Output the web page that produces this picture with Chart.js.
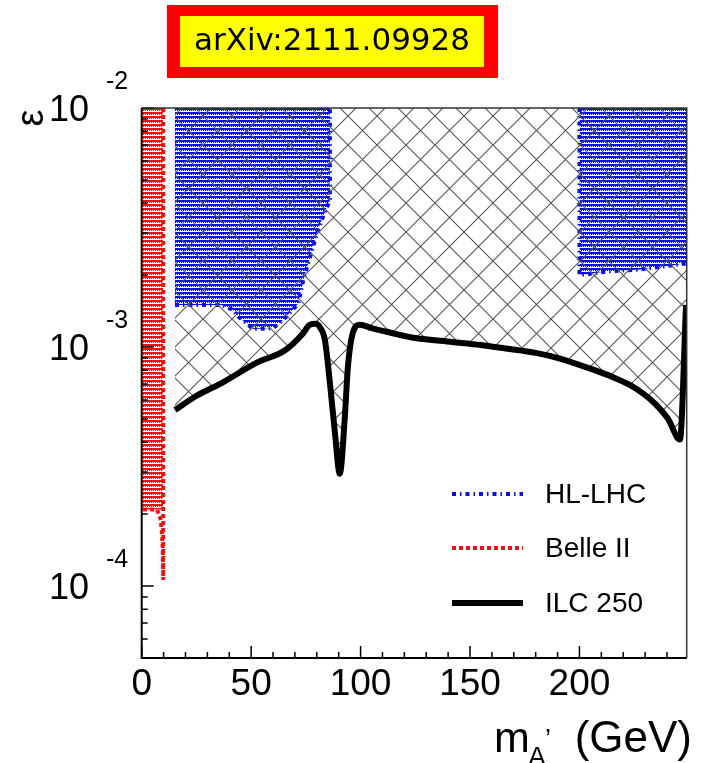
<!DOCTYPE html>
<html>
<head>
<meta charset="utf-8">
<script src="https://cdn.jsdelivr.net/npm/chart.js@4.4.1/dist/chart.umd.min.js"></script>
<style>
  html, body { margin: 0; padding: 0; background: #fff; }
  #wrap { width: 706px; height: 763px; position: relative; }
</style>
</head>
<body>
<div id="wrap"><canvas id="plot" width="706" height="763"></canvas></div>
<script>
// dark photon reach, m_A' in GeV against the kinetic mixing epsilon

// ILC 250 sensitivity curve
const ilcMass = [15.2, 24.9, 36.3, 52.6, 65.5, 73.7, 76.8, 79.5, 81.4, 83.7, 86.0, 88.3, 90.5, 92.8, 94.2, 96.5, 99.7, 105.0, 113.4, 125.0, 141.9, 155.0, 166.3, 180.0, 190.7, 206.9, 215.0, 223.2, 229.0, 234.5, 240.5, 245.9, 248.7];
const ilcEps  = [5.45e-4, 6.24e-4, 7.05e-4, 8.6e-4, 9.7e-4, 1.14e-3, 1.24e-3, 1.25e-3, 1.21e-3, 1.07e-3, 7.06e-4, 4.36e-4, 2.95e-4, 5.09e-4, 8.24e-4, 1.15e-3, 1.24e-3, 1.20e-3, 1.15e-3, 1.09e-3, 1.05e-3, 1.02e-3, 9.86e-4, 9.45e-4, 8.97e-4, 8.0e-4, 7.5e-4, 6.93e-4, 6.4e-4, 5.8e-4, 5.0e-4, 4.1e-4, 1.5e-3];

// HL-LHC excluded regions (lower edges, open to the top)
const hlLowMass  = [15.2, 36.5, 41.8, 44.1, 51.0, 60.1, 64.7, 71.5, 73.8, 77.0, 80.6, 84.0, 86.0, 86.0];
const hlLowEps   = [1.50e-3, 1.50e-3, 1.43e-3, 1.34e-3, 1.19e-3, 1.20e-3, 1.30e-3, 1.52e-3, 1.9e-3, 2.4e-3, 3.1e-3, 3.74e-3, 4.1e-3, 1e-2];
const hlHighMass = [200, 200, 212.3, 227.6, 242.6, 249];
const hlHighEps  = [1e-2, 2.0e-3, 2.07e-3, 2.11e-3, 2.2e-3, 2.24e-3];

// Belle II region and its contour
const belleMass = [0, 9.8];
const belleEps  = [2.09e-4, 2.09e-4];
const belleEdgeMass = [9.85, 9.85, 9.6, 9.1, 8.3, 6.8, 0];
const belleEdgeEps  = [1e-2, 1.06e-4, 1.45e-4, 1.75e-4, 1.98e-4, 2.09e-4, 2.09e-4];

// axes
const xMin = 0, xMax = 249;
const yMin = 5e-5, yMax = 1e-2;
const xMajor = [0, 50, 100, 150, 200];
const yDecades = [-4, -3, -2];

const legendItems = ['HL-LHC', 'Belle II', 'ILC 250'];

const pts = (xs, ys) => xs.map((x, i) => ({ x, y: ys[i] }));

const canvas = document.getElementById('plot');
const ctx = canvas.getContext('2d');

// ROOT-like fill style: solid rows broken by dotted white rows
function stripes(ink) {
  const c = document.createElement('canvas');
  c.width = 4; c.height = 4;
  const g = c.getContext('2d');
  g.fillStyle = '#fff';
  g.fillRect(0, 0, 4, 4);
  g.fillStyle = ink;
  g.fillRect(0, 0, 4, 2);
  g.fillRect(1, 2, 1, 1); g.fillRect(3, 2, 1, 1);
  return ctx.createPattern(c, 'repeat');
}

function crossHatch(s, ink) {
  const c = document.createElement('canvas');
  c.width = s; c.height = s;
  const g = c.getContext('2d');
  g.strokeStyle = ink;
  g.lineWidth = 1.1;
  g.beginPath();
  for (const k of [-s, 0, s]) {
    g.moveTo(-2 + k, -2); g.lineTo(s + 2 + k, s + 2);
    g.moveTo(-2 + k, s + 2); g.lineTo(s + 2 + k, -2);
  }
  g.stroke();
  return ctx.createPattern(c, 'repeat');
}

const BLUE = '#0a0ee6';
const RED = '#ee1111';

const styles = {
  'HL-LHC': { color: BLUE, width: 4, dash: [4, 4, 1.5, 4] },
  'Belle II': { color: RED, width: 4, dash: [4, 3] },
  'ILC 250': { color: '#000', width: 6, dash: [] }
};

const axesAndLabels = {
  id: 'axesAndLabels',
  afterDatasetsDraw(chart) {
    const { ctx, chartArea: a, scales: { x, y } } = chart;
    ctx.save();

    // ticks
    ctx.strokeStyle = '#000';
    ctx.lineWidth = 1.5;
    ctx.beginPath();
    for (let v = xMin; v <= xMax; v += 10) {
      const px = x.getPixelForValue(v);
      const len = v % 50 === 0 ? 12 : 6;
      ctx.moveTo(px, a.bottom); ctx.lineTo(px, a.bottom - len);
    }
    for (let d = -5; d <= -2; d++) {
      for (let m = 1; m <= 9; m++) {
        const v = m * Math.pow(10, d);
        if (v < yMin * 0.999 || v > yMax * 1.001) continue;
        const py = y.getPixelForValue(v);
        ctx.moveTo(a.left, py); ctx.lineTo(a.left + (m === 1 ? 12 : 6), py);
      }
    }
    ctx.stroke();

    // frame
    ctx.lineWidth = 2;
    ctx.strokeStyle = '#000';
    ctx.beginPath();
    ctx.moveTo(a.left, a.top); ctx.lineTo(a.left, a.bottom); ctx.lineTo(a.right, a.bottom);
    ctx.stroke();
    ctx.strokeStyle = '#333';
    ctx.lineWidth = 1.5;
    ctx.beginPath();
    ctx.moveTo(a.left, a.top); ctx.lineTo(a.right, a.top); ctx.lineTo(a.right, a.bottom);
    ctx.stroke();

    // tick labels
    ctx.fillStyle = '#000';
    ctx.font = '37px "Liberation Sans", Arial, sans-serif';
    ctx.textAlign = 'center';
    ctx.textBaseline = 'top';
    xMajor.forEach(v => ctx.fillText(String(v), x.getPixelForValue(v), a.bottom + 8));

    yDecades.forEach(d => {
      const py = y.getPixelForValue(Math.pow(10, d));
      ctx.font = '36px "Liberation Sans", Arial, sans-serif';
      ctx.textAlign = 'right';
      ctx.textBaseline = 'middle';
      ctx.fillText('10', 89, py + 3);
      ctx.font = '25px "Liberation Sans", Arial, sans-serif';
      ctx.textAlign = 'left';
      ctx.fillText(String(d), 106, py - 26);
    });

    // axis titles
    ctx.save();
    ctx.translate(33, 118);
    ctx.rotate(-Math.PI / 2);
    ctx.font = '38px "Liberation Sans", Arial, sans-serif';
    ctx.textAlign = 'center';
    ctx.textBaseline = 'middle';
    ctx.fillText('ε', 0, 0);
    ctx.restore();

    ctx.textAlign = 'left';
    ctx.textBaseline = 'alphabetic';
    ctx.font = '43px "Liberation Sans", Arial, sans-serif';
    ctx.fillText('m', 494, 752);
    ctx.font = '27px "Liberation Sans", Arial, sans-serif';
    ctx.fillText('A', 528, 766);
    ctx.fillText('\u2019', 545, 748);
    ctx.font = '44px "Liberation Sans", Arial, sans-serif';
    ctx.textAlign = 'right';
    ctx.fillText('(GeV)', 692, 752);

    // legend
    const rows = [494, 548, 603];
    legendItems.forEach((name, i) => {
      const s = styles[name];
      ctx.strokeStyle = s.color;
      ctx.lineWidth = s.width;
      ctx.setLineDash(s.dash);
      ctx.beginPath();
      ctx.moveTo(452, rows[i]); ctx.lineTo(523, rows[i]);
      ctx.stroke();
      ctx.setLineDash([]);
      ctx.fillStyle = '#000';
      ctx.font = '28px "Liberation Sans", Arial, sans-serif';
      ctx.textAlign = 'left';
      ctx.textBaseline = 'middle';
      ctx.fillText(name, 545, rows[i] + 1);
    });

    // reference tag
    ctx.fillStyle = '#ff0000';
    ctx.fillRect(167, 5, 331, 73);
    ctx.fillStyle = '#ffff00';
    ctx.fillRect(180, 16, 304, 51);
    ctx.fillStyle = '#000';
    ctx.font = '31px "DejaVu Sans", sans-serif';
    ctx.textAlign = 'center';
    ctx.textBaseline = 'middle';
    ctx.fillText('arXiv:2111.09928', 332, 42);

    ctx.restore();
  }
};

new Chart(canvas, {
  type: 'line',
  data: {
    datasets: [
      {
        label: 'ILC 250',
        data: pts(ilcMass, ilcEps),
        borderColor: styles['ILC 250'].color,
        borderWidth: styles['ILC 250'].width,
        borderJoinStyle: 'round',
        cubicInterpolationMode: 'monotone',
        fill: false
      },
      {
        label: 'ILC 250 reach',
        data: pts(ilcMass, ilcEps),
        borderWidth: 0,
        borderColor: 'rgba(0,0,0,0)',
        cubicInterpolationMode: 'monotone',
        backgroundColor: crossHatch(29, '#555'),
        fill: 'end'
      },
      {
        label: 'HL-LHC',
        data: pts(hlLowMass, hlLowEps),
        borderColor: BLUE,
        borderWidth: styles['HL-LHC'].width,
        borderDash: styles['HL-LHC'].dash,
        backgroundColor: stripes(BLUE),
        fill: 'end'
      },
      {
        label: 'HL-LHC high mass',
        data: pts(hlHighMass, hlHighEps),
        borderColor: BLUE,
        borderWidth: styles['HL-LHC'].width,
        borderDash: styles['HL-LHC'].dash,
        backgroundColor: stripes(BLUE),
        fill: 'end'
      },
      {
        label: 'Belle II contour',
        data: pts(belleEdgeMass, belleEdgeEps),
        borderColor: RED,
        borderWidth: styles['Belle II'].width,
        borderDash: styles['Belle II'].dash,
        fill: false
      },
      {
        label: 'Belle II',
        data: pts(belleMass, belleEps),
        borderWidth: 0,
        borderColor: 'rgba(0,0,0,0)',
        backgroundColor: stripes(RED),
        fill: 'end'
      }
    ]
  },
  options: {
    responsive: false,
    animation: false,
    devicePixelRatio: 1,
    layout: { padding: { left: 141.7, right: 706 - 686.7, top: 108, bottom: 763 - 658 } },
    elements: { point: { radius: 0 }, line: { tension: 0 } },
    scales: {
      x: { type: 'linear', min: xMin, max: xMax, display: false },
      y: { type: 'logarithmic', min: yMin, max: yMax, display: false }
    },
    plugins: { legend: { display: false }, tooltip: { enabled: false } }
  },
  plugins: [axesAndLabels]
});
</script>
</body>
</html>
